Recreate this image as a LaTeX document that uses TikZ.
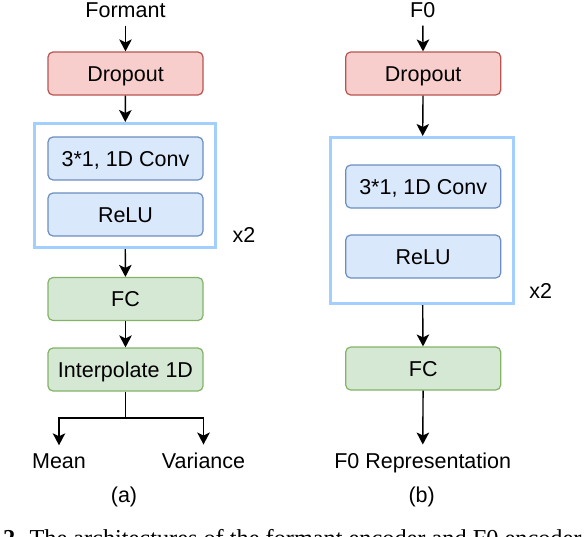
\documentclass[tikz,border=0pt]{standalone}
\usepackage{fontspec}
\setmainfont{Liberation Sans}
\newfontfamily\capfont{Liberation Serif}
\usetikzlibrary{arrows.meta}
\definecolor{pinkfill}{HTML}{F8CECC}
\definecolor{pinkdraw}{HTML}{B85450}
\definecolor{bluefill}{HTML}{DAE8FC}
\definecolor{bluedraw}{HTML}{6C8EBF}
\definecolor{greenfill}{HTML}{D5E8D4}
\definecolor{greendraw}{HTML}{82B366}
\definecolor{groupcol}{HTML}{A3CFFF}
\newcommand{\fs}{\fontsize{21.5}{26}\selectfont}
\begin{document}
\begin{tikzpicture}[x=1pt,y=-1pt,
  blk/.style={rectangle, rounded corners=5pt, minimum width=155pt, minimum height=43pt, inner sep=0pt, line width=1.2pt, font=\fs, text height=15.4pt, text depth=0pt},
  drop/.style={blk, fill=pinkfill, draw=pinkdraw},
  conv/.style={blk, fill=bluefill, draw=bluedraw},
  fcbox/.style={blk, fill=greenfill, draw=greendraw},
  group/.style={rectangle, draw=groupcol, line width=2.6pt, inner sep=0pt},
  io/.style={font=\fs, inner xsep=2pt, inner ysep=8pt, anchor=base},
  lbl/.style={font=\fs, inner sep=0pt, anchor=base},
  arr/.style={-{Stealth[length=12pt,width=12.5pt,inset=3pt]}, line width=1.4pt},
  ln/.style={line width=1.4pt}]
\useasboundingbox (0,0) rectangle (586,536);
\clip (0,0) rectangle (586,536);
% ---------- (a) formant encoder ----------
\node[io] (formant) at (125.5,17.3) {Formant};
\node[drop] (dropa) at (125.5,73.5) {Dropout};
\node[group, minimum width=181.4pt, minimum height=124.4pt] (ga) at (125,185.5) {};
\node[conv] (conva) at (125.5,158.5) {3*1, 1D Conv};
\node[conv] (relua) at (125.5,214.5) {ReLU};
\node[lbl] (xa) at (244,242) {x2};
\node[fcbox] (fca) at (125.5,299) {FC};
\node[fcbox] (interp) at (125.5,369.5) {Interpolate 1D};
\coordinate (junc) at (125.5,418);
\node[io] (mean) at (59,468.3) {Mean};
\node[io] (var) at (203.5,468.3) {Variance};
\node[lbl] (capa) at (124,502) {(a)};
\draw[arr] (formant) -- (dropa);
\draw[arr] (dropa) -- (ga);
\draw[arr] (ga) -- (fca);
\draw[arr] (fca) -- (interp);
\draw[ln] (interp) -- (junc);
\draw[arr] (junc) -| (mean.north);
\draw[arr] (junc) -| (var.north);
% ---------- (b) F0 encoder ----------
\node[io] (fzero) at (422.7,17.3) {F0};
\node[drop] (dropb) at (423.2,73.5) {Dropout};
\node[group, minimum width=183.4pt, minimum height=166.4pt] (gb) at (422,220.5) {};
\node[conv] (convb) at (423.2,186.5) {3*1, 1D Conv};
\node[conv] (relub) at (423.2,256.5) {ReLU};
\node[lbl] (xb) at (540.7,298.3) {x2};
\node[fcbox] (fcb) at (423.2,368.5) {FC};
\node[io] (rep) at (422.7,468.3) {F0 Representation};
\node[lbl] (capb) at (421.7,502) {(b)};
\draw[arr] (fzero) -- (dropb);
\draw[arr] (dropb) -- (gb);
\draw[arr] (gb) -- (fcb);
\draw[arr] (fcb) -- (rep);
% ---------- caption (cut off at the lower edge, as in the reference) ----------
\node[anchor=base west, font=\capfont\fontsize{24.3}{28}\selectfont, inner sep=0pt] (caption) at (3,546) {\textbf{2.} The architectures of the formant encoder and F0 encoder};
\end{tikzpicture}
\end{document}
